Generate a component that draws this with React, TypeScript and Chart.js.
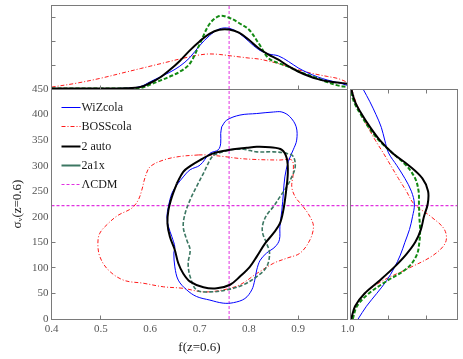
import React, { useEffect, useRef } from 'react';
import { Chart, registerables } from 'chart.js';

Chart.register(...registerables);

const W = 463;
const H = 359;
const SERIF = '"Liberation Serif", "Times New Roman", "DejaVu Serif", serif';

// ---- 2D contours (f, sigma_v) ----
const wizF = [0.745, 0.755, 0.782, 0.816, 0.850, 0.867, 0.883, 0.896, 0.897, 0.890, 0.880, 0.873, 0.870, 0.867, 0.863, 0.862, 0.853, 0.836, 0.823, 0.816, 0.812, 0.806, 0.792, 0.769, 0.748, 0.721, 0.694, 0.674, 0.657, 0.650, 0.648, 0.650, 0.644, 0.637, 0.634, 0.637, 0.644, 0.654, 0.667, 0.681, 0.701, 0.721, 0.738, 0.743, 0.743];
const wizS = [376, 389, 399, 402, 405, 405, 396, 376, 350, 331, 308, 278, 246, 213, 181, 155, 141, 129, 115, 96, 76, 57, 40, 32, 31, 37, 44, 57, 76, 102, 129, 141, 161, 181, 200, 220, 246, 262, 278, 292, 301, 324, 331, 344, 363];

const bossF = [0.698, 0.660, 0.627, 0.600, 0.590, 0.583, 0.576, 0.563, 0.535, 0.515, 0.498, 0.494, 0.498, 0.515, 0.546, 0.586, 0.627, 0.667, 0.708, 0.748, 0.782, 0.816, 0.850, 0.877, 0.904, 0.924, 0.931, 0.924, 0.910, 0.894, 0.887, 0.890, 0.887, 0.863, 0.816, 0.782, 0.748, 0.715];
const bossS = [321, 318, 311, 298, 278, 252, 233, 217, 203, 187, 168, 148, 122, 96, 76, 70, 63, 60, 53, 57, 67, 89, 109, 119, 129, 155, 181, 200, 220, 239, 259, 285, 311, 311, 312, 314, 318, 321];

const autoF = [0.654, 0.667, 0.681, 0.701, 0.728, 0.762, 0.796, 0.816, 0.843, 0.867, 0.877, 0.879, 0.875, 0.870, 0.863, 0.850, 0.833, 0.816, 0.802, 0.782, 0.762, 0.735, 0.708, 0.681, 0.667, 0.657, 0.650, 0.640, 0.635, 0.637, 0.644];
const autoS = [265, 288, 299, 311, 324, 331, 335, 337, 336, 331, 314, 285, 246, 213, 187, 168, 148, 122, 102, 83, 67, 60, 62, 73, 89, 109, 135, 161, 187, 213, 239];

const a1xF = [0.728, 0.762, 0.789, 0.816, 0.850, 0.877, 0.890, 0.894, 0.887, 0.877, 0.863, 0.850, 0.836, 0.828, 0.828, 0.836, 0.842, 0.836, 0.816, 0.789, 0.755, 0.721, 0.694, 0.681, 0.677, 0.681, 0.674, 0.667, 0.671, 0.681, 0.694, 0.708, 0.721];
const a1xS = [321, 331, 332, 327, 327, 324, 318, 298, 278, 259, 239, 220, 203, 184, 168, 148, 129, 102, 83, 67, 57, 53, 57, 83, 109, 135, 155, 181, 207, 233, 259, 285, 311];

// ---- marginal of f (top panel) ----
const fGrid = [0.40, 0.45, 0.50, 0.55, 0.58, 0.60, 0.62, 0.64, 0.66, 0.68, 0.70, 0.72, 0.74, 0.76, 0.78, 0.80, 0.82, 0.84, 0.86, 0.88, 0.90, 0.92, 0.94, 0.96, 0.98, 1.00];
const wizTop = [0.02, 0.02, 0.02, 0.03, 0.10, 0.30, 0.50, 0.70, 0.95, 1.30, 1.80, 2.22, 2.50, 2.53, 2.33, 1.98, 1.64, 1.46, 1.38, 1.15, 0.88, 0.67, 0.50, 0.37, 0.27, 0.15];
const bossTop = [0.08, 0.24, 0.45, 0.70, 0.85, 0.95, 1.05, 1.15, 1.25, 1.34, 1.42, 1.46, 1.44, 1.39, 1.34, 1.29, 1.25, 1.16, 1.06, 0.93, 0.80, 0.69, 0.60, 0.52, 0.44, 0.28];
const autoTop = [0.02, 0.02, 0.02, 0.03, 0.08, 0.25, 0.48, 0.80, 1.17, 1.60, 1.98, 2.30, 2.47, 2.48, 2.35, 2.05, 1.70, 1.43, 1.22, 0.95, 0.73, 0.55, 0.41, 0.32, 0.27, 0.22];
const a1xTop = [0.02, 0.02, 0.02, 0.02, 0.04, 0.18, 0.35, 0.52, 0.72, 1.05, 1.85, 2.70, 3.04, 2.97, 2.75, 2.48, 1.90, 1.28, 1.08, 0.93, 0.74, 0.59, 0.44, 0.28, 0.15, 0.08];

// ---- marginal of sigma_v (right panel) ----
const sGrid = [0, 25, 50, 75, 100, 125, 150, 175, 200, 225, 250, 275, 300, 325, 350, 375, 400, 425, 450];
const wizRight = [0.20, 0.42, 0.69, 0.95, 1.15, 1.31, 1.43, 1.55, 1.63, 1.68, 1.60, 1.43, 1.22, 1.00, 0.90, 0.81, 0.67, 0.51, 0.33];
const bossRight = [0.02, 0.13, 0.38, 0.85, 1.55, 2.18, 2.50, 2.47, 2.12, 1.67, 1.47, 1.26, 1.06, 0.86, 0.65, 0.46, 0.29, 0.14, 0.03];
const autoRight = [0.02, 0.12, 0.37, 0.76, 1.13, 1.45, 1.70, 1.85, 1.93, 2.03, 2.04, 1.89, 1.54, 1.10, 0.77, 0.52, 0.30, 0.12, 0.02];
const a1xRight = [0.06, 0.17, 0.48, 0.97, 1.50, 1.74, 1.81, 1.83, 1.81, 1.80, 1.79, 1.70, 1.47, 1.10, 0.74, 0.48, 0.27, 0.09, 0.0];

// ---- reference model & axes ----
const lcdmF = 0.76;
const lcdmS = 222;
const fRange = [0.4, 1.0];
const sRange = [0, 450];
const topDensRange = [0, 3.5];
const rightDensRange = [0, 2.8];
const mainXTickMarks = [0.5, 0.9];
const mainYTickMarks = [50, 100, 150];
const topTickMarks = [1, 2, 3];
const rightTickMarks = [1, 2];

const STY = {
  wiz: { color: '#0000ff', width: 1, dash: [] as number[] },
  boss: { color: '#ff1a1a', width: 1, dash: [4, 2, 1, 2] },
  auto: { color: '#000000', width: 2, dash: [] as number[] },
  a1xC: { color: '#3c7762', width: 1.6, dash: [4, 2] },
  a1xM: { color: '#138a13', width: 2, dash: [4, 2] },
  lcdm: { color: '#e030e0', width: 1, dash: [3, 2] },
  lcdmH: { color: '#e030e0', width: 1.3, dash: [3, 2] },
};

const loop = (fs: number[], ss: number[]) => {
  const pts = fs.map((f, i) => ({ x: f, y: ss[i] }));
  pts.push({ ...pts[0] });
  return pts;
};
const pairs = (xs: number[], ys: number[]) => xs.map((x, i) => ({ x, y: ys[i] }));

const mk = (label: string, data: any[], sty: any, order: number, extra: any = {}) => ({
  label,
  data,
  showLine: true,
  borderColor: sty.color,
  backgroundColor: sty.color,
  borderWidth: sty.width,
  borderDash: sty.dash,
  pointRadius: 0,
  pointHoverRadius: 0,
  tension: 0.35,
  fill: false,
  order,
  ...extra,
});

const snap = (v: number) => Math.round(v - 0.5) + 0.5;

function framePlugin(marks: { axis: 'x' | 'y'; side: 'left' | 'right' | 'top' | 'bottom'; values: number[] }[]) {
  return {
    id: 'frame',
    afterDraw(chart: any) {
      const { ctx, chartArea } = chart;
      const l = snap(chartArea.left), r = snap(chartArea.right), t = snap(chartArea.top), b = snap(chartArea.bottom);
      ctx.save();
      ctx.strokeStyle = '#7a7a7a';
      ctx.lineWidth = 1;
      ctx.setLineDash([]);
      ctx.strokeRect(l, t, r - l, b - t);
      const len = 4;
      marks.forEach((m) => {
        const sc = chart.scales[m.axis];
        m.values.forEach((v) => {
          const p = snap(sc.getPixelForValue(v));
          ctx.beginPath();
          if (m.side === 'bottom') { ctx.moveTo(p, b); ctx.lineTo(p, b - len); }
          if (m.side === 'top') { ctx.moveTo(p, t); ctx.lineTo(p, t + len); }
          if (m.side === 'left') { ctx.moveTo(l, p); ctx.lineTo(l + len, p); }
          if (m.side === 'right') { ctx.moveTo(r, p); ctx.lineTo(r - len, p); }
          ctx.stroke();
        });
      });
      ctx.restore();
    },
  };
}

const legendPlugin = {
  id: 'innerLegend',
  afterDraw(chart: any) {
    const { ctx, chartArea } = chart;
    const items = chart.data.datasets.filter((d: any) => d.legend !== false);
    ctx.save();
    items.forEach((d: any, i: number) => {
      const y = Math.round(chartArea.top + 18 + i * 19.3) + 0.5;
      const x0 = chartArea.left + 10;
      ctx.beginPath();
      ctx.strokeStyle = d.borderColor;
      ctx.lineWidth = d.legendWidth ?? d.borderWidth;
      ctx.setLineDash(d.legendDash ?? d.borderDash ?? []);
      ctx.moveTo(x0, y);
      ctx.lineTo(x0 + 19, y);
      ctx.stroke();
      ctx.setLineDash([]);
      ctx.fillStyle = '#1a1a1a';
      ctx.font = `12px ${SERIF}`;
      ctx.textBaseline = 'middle';
      ctx.textAlign = 'left';
      ctx.fillText(d.label, x0 + 20, y);
    });
    ctx.restore();
  },
};

const common = {
  responsive: false,
  animation: false as const,
  events: [] as any[],
  plugins: { legend: { display: false }, tooltip: { enabled: false } },
};

export default function App() {
  const mainRef = useRef<HTMLCanvasElement>(null);
  const topRef = useRef<HTMLCanvasElement>(null);
  const rightRef = useRef<HTMLCanvasElement>(null);

  useEffect(() => {
    const charts: Chart[] = [];
    const tickFont = { family: SERIF, size: 11 };

    // main 2D panel
    charts.push(
      new Chart(mainRef.current!, {
        type: 'scatter',
        data: {
          datasets: [
            mk('WiZcola', loop(wizF, wizS), STY.wiz, 2),
            mk('BOSScola', loop(bossF, bossS), STY.boss, 3),
            mk('2 auto', loop(autoF, autoS), STY.auto, 0),
            mk('2a1x', loop(a1xF, a1xS), STY.a1xC, 1, { legendDash: [], legendWidth: 2 }),
            mk('ΛCDM', [{ x: lcdmF, y: sRange[0] }, { x: lcdmF, y: sRange[1] }], STY.lcdm, 4, { tension: 0 }),
            mk('ΛCDM', [{ x: fRange[0], y: lcdmS }, { x: fRange[1], y: lcdmS }], STY.lcdmH, 4, { tension: 0, legend: false }),
          ] as any,
        },
        options: {
          ...common,
          layout: { padding: { left: 0, top: 89, right: W - 347.5, bottom: 0 }, autoPadding: false },
          scales: {
            x: {
              type: 'linear',
              min: fRange[0],
              max: fRange[1],
              grid: { display: false, drawTicks: false },
              border: { display: false },
              ticks: { stepSize: 0.1, color: '#555555', font: tickFont, padding: 4, maxRotation: 0, autoSkip: false },
              title: { display: true, text: 'f(z=0.6)', color: '#1a1a1a', font: { family: SERIF, size: 13 }, padding: { top: 0, bottom: 4 } },
              afterFit: (s: any) => { s.height = 40; s.paddingLeft = 0; s.paddingRight = 0; },
            },
            y: {
              type: 'linear',
              min: sRange[0],
              max: sRange[1],
              grid: { display: false, drawTicks: false },
              border: { display: false },
              ticks: { stepSize: 50, color: '#555555', font: tickFont, padding: 3 },
              title: { display: true, text: 'σᵥ(z=0.6)', color: '#1a1a1a', font: { family: SERIF, size: 13 }, padding: { top: 10, bottom: 0 } },
              afterFit: (s: any) => { s.width = 51.5; s.paddingTop = 0; s.paddingBottom = 0; },
            },
          },
        } as any,
        plugins: [
          framePlugin([
            { axis: 'x', side: 'bottom', values: mainXTickMarks },
            { axis: 'y', side: 'left', values: mainYTickMarks },
            { axis: 'y', side: 'right', values: mainYTickMarks },
          ]),
          legendPlugin,
        ],
      })
    );

    // top marginal panel
    charts.push(
      new Chart(topRef.current!, {
        type: 'scatter',
        data: {
          datasets: [
            mk('ΛCDM', [{ x: lcdmF, y: topDensRange[0] }, { x: lcdmF, y: topDensRange[1] }], STY.lcdm, 4, { tension: 0 }),
            mk('BOSScola', pairs(fGrid, bossTop), STY.boss, 3),
            mk('WiZcola', pairs(fGrid, wizTop), STY.wiz, 2),
            mk('2a1x', pairs(fGrid, a1xTop), STY.a1xM, 1),
            mk('2 auto', pairs(fGrid, autoTop), STY.auto, 0),
          ] as any,
        },
        options: {
          ...common,
          layout: { padding: { left: 51.5, top: 5, right: W - 347.5, bottom: H - 89 }, autoPadding: false },
          scales: {
            x: { type: 'linear', display: false, min: fRange[0], max: fRange[1] },
            y: { type: 'linear', display: false, min: topDensRange[0], max: topDensRange[1] },
          },
        } as any,
        plugins: [
          framePlugin([
            { axis: 'y', side: 'left', values: topTickMarks },
            { axis: 'y', side: 'right', values: topTickMarks },
            { axis: 'x', side: 'bottom', values: mainXTickMarks },
          ]),
        ],
      })
    );

    // right marginal panel
    charts.push(
      new Chart(rightRef.current!, {
        type: 'scatter',
        data: {
          datasets: [
            mk('ΛCDM', [{ x: rightDensRange[0], y: lcdmS }, { x: rightDensRange[1], y: lcdmS }], STY.lcdmH, 4, { tension: 0 }),
            mk('BOSScola', pairs(bossRight, sGrid), STY.boss, 3),
            mk('WiZcola', pairs(wizRight, sGrid), STY.wiz, 2),
            mk('2a1x', pairs(a1xRight, sGrid), STY.a1xM, 1),
            mk('2 auto', pairs(autoRight, sGrid), STY.auto, 0),
          ] as any,
        },
        options: {
          ...common,
          layout: { padding: { left: 350.5, top: 89, right: W - 457, bottom: H - 319 }, autoPadding: false },
          scales: {
            x: { type: 'linear', display: false, min: rightDensRange[0], max: rightDensRange[1] },
            y: { type: 'linear', display: false, min: sRange[0], max: sRange[1] },
          },
        } as any,
        plugins: [
          framePlugin([
            { axis: 'x', side: 'top', values: rightTickMarks },
            { axis: 'x', side: 'bottom', values: rightTickMarks },
            { axis: 'y', side: 'right', values: mainYTickMarks },
          ]),
        ],
      })
    );

    return () => charts.forEach((c) => c.destroy());
  }, []);

  const cs: React.CSSProperties = { position: 'absolute', left: 0, top: 0, width: W, height: H };
  return (
    <div style={{ position: 'fixed', left: 0, top: 0, width: W, height: H, background: '#fff' }}>
      <canvas ref={mainRef} width={W} height={H} style={cs} />
      <canvas ref={topRef} width={W} height={H} style={cs} />
      <canvas ref={rightRef} width={W} height={H} style={cs} />
    </div>
  );
}
